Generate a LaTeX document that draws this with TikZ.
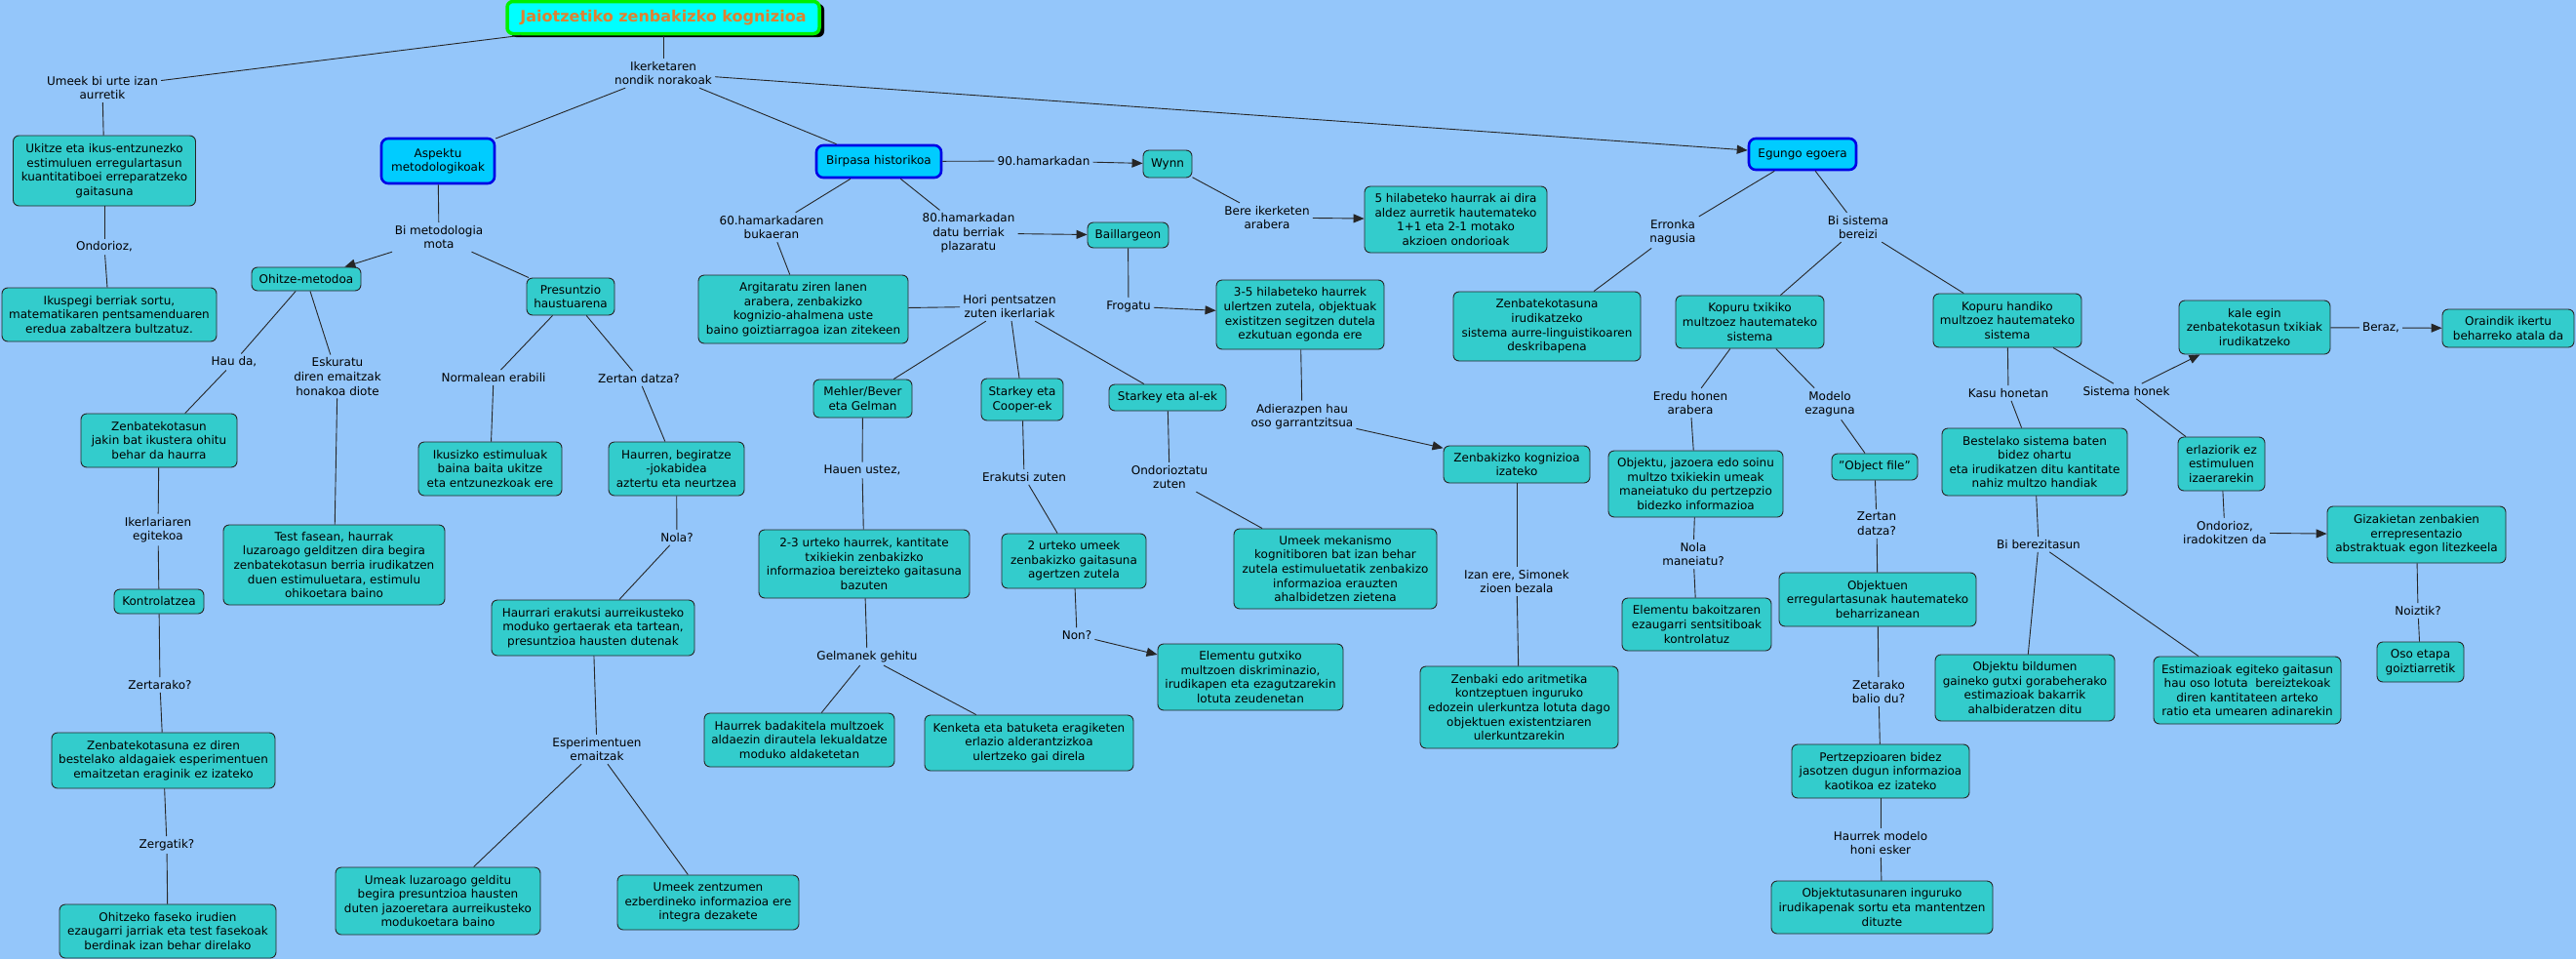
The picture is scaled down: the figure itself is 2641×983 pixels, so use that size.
\documentclass[tikz,border=0pt]{standalone}
\usepackage{fontspec}
\setmainfont{DejaVu Sans}
\usetikzlibrary{arrows.meta}
\definecolor{bg}{RGB}{148,198,250}
\definecolor{boxfill}{RGB}{51,204,204}
\definecolor{bluefill}{RGB}{0,204,255}
\definecolor{blueedge}{RGB}{0,0,230}
\definecolor{titlefill}{RGB}{0,255,255}
\definecolor{titleedge}{RGB}{0,240,0}
\definecolor{titletext}{RGB}{224,128,48}
\newcommand\nf{\fontsize{12}{14.6}\selectfont}
\begin{document}
\begin{tikzpicture}[x=1pt,y=-1pt,
 box/.style={draw=black!85, fill=boxfill, rounded corners=6pt, line width=0.9pt, align=center, inner sep=2pt, font=\nf},
 bbox/.style={draw=blueedge, fill=bluefill, rounded corners=7pt, line width=2.6pt, align=center, inner sep=2pt, font=\nf},
 lbl/.style={align=center, inner sep=3pt, font=\nf},
 conn/.style={draw=black!85, line width=0.9pt},
 arr/.style={conn, -{Triangle[length=11pt,width=9pt]}},
 sz/.style 2 args={minimum width=#1pt, minimum height=#2pt},
]
\fill[bg] (0,0) rectangle (2641,983);
\useasboundingbox (0,0) rectangle (2641,983);

% title
\node[fill=black, rounded corners=6pt, sz={322}{34}] (titleshadow) at (684,21) {};
\node[draw=titleedge, fill=titlefill, line width=3.5pt, rounded corners=6pt, sz={320}{33}, inner xsep=4pt,
  font=\fontsize{16}{19}\selectfont\bfseries, text=titletext] (title) at (680,18) {Jaiotzetiko zenbakizko kognizioa};

% blue boxes
\node[bbox, sz={116}{46}] (aspekto) at (449,165) {Aspektu\\metodologikoak};
\node[bbox, sz={128}{33}] (birpasa) at (901,165.5) {Birpasa historikoa};
\node[bbox, sz={110}{32}] (egungo) at (1848,158) {Egungo egoera};

% left branch
\node[box, sz={187}{72}] (ukitze) at (107,175) {Ukitze eta ikus-entzunezko\\estimuluen erregulartasun\\kuantitatiboei erreparatzeko\\gaitasuna};
\node[box, sz={220}{55}] (ikuspegi) at (112,322.5) {Ikuspegi berriak sortu,\\matematikaren pentsamenduaren\\eredua zabaltzera bultzatuz.};
\node[box, sz={112}{24}] (ohitze) at (314,286) {Ohitze-metodoa};
\node[box, sz={90}{38}] (presuntzio) at (585,304) {Presuntzio\\haustuarena};
\node[box, sz={160}{55}] (zenbjakin) at (163,451.5) {Zenbatekotasun\\jakin bat ikustera ohitu\\behar da haurra};
\node[box, sz={92}{25}] (kontrolatzea) at (163,616.5) {Kontrolatzea};
\node[box, sz={227}{82}] (test) at (342.5,579) {Test fasean, haurrak\\luzaroago gelditzen dira begira\\zenbatekotasun berria irudikatzen\\duen estimuluetara, estimulu\\ohikoetara baino};
\node[box, sz={147}{55}] (ikusizko) at (502.5,480.5) {Ikusizko estimuluak\\baina baita ukitze\\eta entzunezkoak ere};
\node[box, sz={139}{55}] (haurren) at (693.5,480.5) {Haurren, begiratze\\-jokabidea\\aztertu eta neurtzea};
\node[box, sz={208}{57}] (haurrari) at (608,643.5) {Haurrari erakutsi aurreikusteko\\moduko gertaerak eta tartean,\\presuntzioa hausten dutenak};
\node[box, sz={229}{57}] (zenbezdiren) at (167.5,779.5) {Zenbatekotasuna ez diren\\bestelako aldagaiek esperimentuen\\emaitzetan eraginik ez izateko};
\node[box, sz={222}{55}] (ohitzeko) at (172,954.5) {Ohitzeko faseko irudien\\ezaugarri jarriak eta test fasekoak\\berdinak izan behar direlako};
\node[box, sz={210}{69}] (umeakluz) at (449,923.5) {Umeak luzaroago gelditu\\begira presuntzioa hausten\\duten jazoeretara aurreikusteko\\modukoetara baino};
\node[box, sz={186}{56}] (umeekzentz) at (726,925) {Umeek zentzumen\\ezberdineko informazioa ere\\integra dezakete};

% middle branch
\node[box, sz={50}{28}] (wynn) at (1197,168) {Wynn};
\node[box, sz={187}{68}] (hil5) at (1492.5,225) {5 hilabeteko haurrak ai dira\\aldez aurretik hautemateko\\1+1 eta 2-1 motako\\akzioen ondorioak};
\node[box, sz={215}{70}] (argitaratu) at (823.5,317) {Argitaratu ziren lanen\\arabera, zenbakizko\\kognizio-ahalmena uste\\baino goiztiarragoa izan zitekeen};
\node[box, sz={83}{26}] (baillargeon) at (1156.5,241) {Baillargeon};
\node[box, sz={172}{71}] (hil35) at (1333,322.5) {3-5 hilabeteko haurrek\\ulertzen zutela, objektuak\\existitzen segitzen dutela\\ezkutuan egonda ere};
\node[box, sz={101}{39}] (mehler) at (884.5,408.5) {Mehler/Bever\\eta Gelman};
\node[box, sz={84}{43}] (cooper) at (1048,409.5) {Starkey eta\\Cooper-ek};
\node[box, sz={120}{27}] (alek) at (1197,407.5) {Starkey eta al-ek};
\node[box, sz={216}{70}] (urte23) at (886,578) {2-3 urteko haurrek, kantitate\\txikiekin zenbakizko\\informazioa bereizteko gaitasuna\\bazuten};
\node[box, sz={195}{55}] (badakitela) at (819.5,758.5) {Haurrek badakitela multzoek\\aldaezin dirautela lekualdatze\\moduko aldaketetan};
\node[box, sz={214}{57}] (kenketa) at (1055,761.5) {Kenketa eta batuketa eragiketen\\erlazio alderantzizkoa\\ulertzeko gai direla};
\node[box, sz={148}{56}] (urte2) at (1101,575) {2 urteko umeek\\zenbakizko gaitasuna\\agertzen zutela};
\node[box, sz={190}{68}] (elemgutxi) at (1282,694) {Elementu gutxiko\\multzoen diskriminazio,\\irudikapen eta ezagutzarekin\\lotuta zeudenetan};
\node[box, sz={208}{82}] (mekanismo) at (1369,583) {Umeek mekanismo\\kognitiboren bat izan behar\\zutela estimuluetatik zenbakizo\\informazioa erauzten\\ahalbidetzen zietena};
\node[box, sz={150}{38}] (zkizateko) at (1555,476) {Zenbakizko kognizioa\\izateko};
\node[box, sz={203}{84}] (zenbakiedo) at (1557.5,725) {Zenbaki edo aritmetika\\kontzeptuen inguruko\\edozein ulerkuntza lotuta dago\\objektuen existentziaren\\ulerkuntzarekin};

% right branch
\node[box, sz={192}{71}] (zenbirud) at (1586,334.5) {Zenbatekotasuna\\irudikatzeko\\sistema aurre-linguistikoaren\\deskribapena};
\node[box, sz={152}{54}] (txikiko) at (1794,330) {Kopuru txikiko\\multzoez hautemateko\\sistema};
\node[box, sz={152}{55}] (handiko) at (2058,328.5) {Kopuru handiko\\multzoez hautemateko\\sistema};
\node[box, sz={179}{68}] (objjazoera) at (1738.5,496) {Objektu, jazoera edo soinu\\multzo txikiekin umeak\\maneiatuko du pertzepzio\\bidezko informazioa};
\node[box, sz={153}{54}] (elembak) at (1739.5,640) {Elementu bakoitzaren\\ezaugarri sentsitiboak\\kontrolatuz};
\node[box, sz={88}{27}] (objfile) at (1922,478.5) {"Object file"};
\node[box, sz={202}{55}] (objektuen) at (1925,614.5) {Objektuen\\erregulartasunak hautemateko\\beharrizanean};
\node[box, sz={182}{55}] (pertzep) at (1928,790.5) {Pertzepzioaren bidez\\jasotzen dugun informazioa\\kaotikoa ez izateko};
\node[box, sz={227}{54}] (objtasun) at (1929.5,930) {Objektutasunaren inguruko\\irudikapenak sortu eta mantentzen\\dituzte};
\node[box, sz={190}{69}] (bestelako) at (2086,473.5) {Bestelako sistema baten\\bidez ohartu\\eta irudikatzen ditu kantitate\\nahiz multzo handiak};
\node[box, sz={184}{68}] (objbild) at (2076,705) {Objektu bildumen\\gaineko gutxi gorabeherako\\estimazioak bakarrik\\ahalbideratzen ditu};
\node[box, sz={192}{69}] (estimazioak) at (2304,707.5) {Estimazioak egiteko gaitasun\\hau oso lotuta~ bereiztekoak\\diren kantitateen arteko\\ratio eta umearen adinarekin};
\node[box, sz={155}{55}] (kale) at (2311.5,335.5) {kale egin\\zenbatekotasun txikiak\\irudikatzeko};
\node[box, sz={135}{39}] (oraindik) at (2571.5,336.5) {Oraindik ikertu\\beharreko atala da};
\node[box, sz={89}{55}] (erlaziorik) at (2277.5,475.5) {erlaziorik ez\\estimuluen\\izaerarekin};
\node[box, sz={183}{58}] (gizakietan) at (2477.5,548) {Gizakietan zenbakien\\errepresentazio\\abstraktuak egon litezkeela};
\node[box, sz={89}{41}] (osoetapa) at (2481.5,678.5) {Oso etapa\\goiztiarretik};

% labels
\node[lbl] (umeek) at (105,90) {Umeek bi urte izan\\aurretik};
\node[lbl] (ikerketaren) at (680,75) {Ikerketaren\\nondik norakoak};
\node[lbl] (ondorioz1) at (107,253) {Ondorioz,};
\node[lbl] (bimetod) at (450,243) {Bi metodologia\\mota};
\node[lbl] (hauda) at (240,371) {Hau da,};
\node[lbl] (eskuratu) at (346,386) {Eskuratu\\diren emaitzak\\honakoa diote};
\node[lbl] (ikerlariaren) at (162,543) {Ikerlariaren\\egitekoa};
\node[lbl] (zertarako) at (164,702) {Zertarako?};
\node[lbl] (zergatik) at (171,866) {Zergatik?};
\node[lbl] (normalean) at (506,387) {Normalean erabili};
\node[lbl] (zertan1) at (655,388) {Zertan datza?};
\node[lbl] (nola1) at (694,551) {Nola?};
\node[lbl] (esperimentuen) at (612,768) {Esperimentuen\\emaitzak};
\node[lbl] (l90) at (1070,165) {90.hamarkadan};
\node[lbl] (bere) at (1299,223) {Bere ikerketen\\arabera};
\node[lbl] (l60) at (791,233) {60.hamarkadaren\\bukaeran};
\node[lbl] (l80) at (993,239) {80.hamarkadan\\datu berriak\\plazaratu};
\node[lbl] (frogatu) at (1157,314) {Frogatu};
\node[lbl] (hori) at (1035,314) {Hori pentsatzen\\zuten ikerlariak};
\node[lbl] (hauen) at (884,482) {Hauen ustez,};
\node[lbl] (gelmanek) at (889,673) {Gelmanek gehitu};
\node[lbl] (erakutsi) at (1050,489) {Erakutsi zuten};
\node[lbl] (non) at (1104,651) {Non?};
\node[lbl] (ondorioztatu) at (1199,489) {Ondorioztatu\\zuten};
\node[lbl] (adierazpen) at (1335,427) {Adierazpen hau\\oso garrantzitsua};
\node[lbl] (izanere) at (1555,596) {Izan ere, Simonek\\zioen bezala};
\node[lbl] (erronka) at (1715,238) {Erronka\\nagusia};
\node[lbl] (bisistema) at (1905,233) {Bi sistema\\bereizi};
\node[lbl] (eredu) at (1733,413) {Eredu honen\\arabera};
\node[lbl] (nolaman) at (1736,568) {Nola\\maneiatu?};
\node[lbl] (modelo) at (1876,414) {Modelo\\ezaguna};
\node[lbl] (zertan2) at (1924,537) {Zertan\\datza?};
\node[lbl] (zetarako) at (1926,709) {Zetarako\\balio du?};
\node[lbl] (haurrekmod) at (1928,864) {Haurrek modelo\\honi esker};
\node[lbl] (kasu) at (2059,403) {Kasu honetan};
\node[lbl] (biberez) at (2090,558) {Bi berezitasun};
\node[lbl] (sistemahonek) at (2180,401) {Sistema honek};
\node[lbl] (beraz) at (2441,336) {Beraz,};
\node[lbl] (ondorioz2) at (2281,546) {Ondorioz,\\iradokitzen da};
\node[lbl] (noiztik) at (2479,626) {Noiztik?};

% connectors
\draw[conn] (title) -- (umeek);
\draw[conn] (umeek) -- (ukitze);
\draw[conn] (ukitze) -- (ondorioz1);
\draw[conn] (ondorioz1) -- (ikuspegi);
\draw[conn] (title) -- (ikerketaren);
\draw[conn] (ikerketaren) -- (aspekto);
\draw[conn] (ikerketaren) -- (birpasa);
\draw[arr] (ikerketaren) -- (egungo);
\draw[conn] (aspekto) -- (bimetod);
\draw[arr] (bimetod) -- (ohitze);
\draw[conn] (bimetod) -- (presuntzio);
\draw[conn] (ohitze) -- (hauda);
\draw[conn] (ohitze) -- (eskuratu);
\draw[conn] (hauda) -- (zenbjakin);
\draw[conn] (eskuratu) -- (test);
\draw[conn] (zenbjakin) -- (ikerlariaren);
\draw[conn] (ikerlariaren) -- (kontrolatzea);
\draw[conn] (kontrolatzea) -- (zertarako);
\draw[conn] (zertarako) -- (zenbezdiren);
\draw[conn] (zenbezdiren) -- (zergatik);
\draw[conn] (zergatik) -- (ohitzeko);
\draw[conn] (presuntzio) -- (normalean);
\draw[conn] (normalean) -- (ikusizko);
\draw[conn] (presuntzio) -- (zertan1);
\draw[conn] (zertan1) -- (haurren);
\draw[conn] (haurren) -- (nola1);
\draw[conn] (nola1) -- (haurrari);
\draw[conn] (haurrari) -- (esperimentuen);
\draw[conn] (esperimentuen) -- (umeakluz);
\draw[conn] (esperimentuen) -- (umeekzentz);
\draw[conn] (birpasa) -- (l90);
\draw[arr] (l90) -- (wynn);
\draw[conn] (wynn) -- (bere);
\draw[arr] (bere) -- (hil5);
\draw[conn] (birpasa) -- (l60);
\draw[conn] (l60) -- (argitaratu);
\draw[conn] (birpasa) -- (l80);
\draw[arr] (l80) -- (baillargeon);
\draw[conn] (baillargeon) -- (frogatu);
\draw[arr] (frogatu) -- (hil35);
\draw[conn] (argitaratu) -- (hori);
\draw[conn] (hori) -- (mehler);
\draw[conn] (hori) -- (cooper);
\draw[conn] (hori) -- (alek);
\draw[conn] (mehler) -- (hauen);
\draw[conn] (hauen) -- (urte23);
\draw[conn] (urte23) -- (gelmanek);
\draw[conn] (gelmanek) -- (badakitela);
\draw[conn] (gelmanek) -- (kenketa);
\draw[conn] (cooper) -- (erakutsi);
\draw[conn] (erakutsi) -- (urte2);
\draw[conn] (urte2) -- (non);
\draw[arr] (non) -- (elemgutxi);
\draw[conn] (alek) -- (ondorioztatu);
\draw[conn] (ondorioztatu) -- (mekanismo);
\draw[conn] (hil35) -- (adierazpen);
\draw[arr] (adierazpen) -- (zkizateko);
\draw[conn] (zkizateko) -- (izanere);
\draw[conn] (izanere) -- (zenbakiedo);
\draw[conn] (egungo) -- (erronka);
\draw[conn] (erronka) -- (zenbirud);
\draw[conn] (egungo) -- (bisistema);
\draw[conn] (bisistema) -- (txikiko);
\draw[conn] (bisistema) -- (handiko);
\draw[conn] (txikiko) -- (eredu);
\draw[conn] (eredu) -- (objjazoera);
\draw[conn] (objjazoera) -- (nolaman);
\draw[conn] (nolaman) -- (elembak);
\draw[conn] (txikiko) -- (modelo);
\draw[conn] (modelo) -- (objfile);
\draw[conn] (objfile) -- (zertan2);
\draw[conn] (zertan2) -- (objektuen);
\draw[conn] (objektuen) -- (zetarako);
\draw[conn] (zetarako) -- (pertzep);
\draw[conn] (pertzep) -- (haurrekmod);
\draw[conn] (haurrekmod) -- (objtasun);
\draw[conn] (handiko) -- (kasu);
\draw[conn] (kasu) -- (bestelako);
\draw[conn] (bestelako) -- (biberez);
\draw[conn] (biberez) -- (objbild);
\draw[conn] (biberez) -- (estimazioak);
\draw[conn] (handiko) -- (sistemahonek);
\draw[arr] (sistemahonek) -- (kale);
\draw[conn] (kale) -- (beraz);
\draw[arr] (beraz) -- (oraindik);
\draw[conn] (sistemahonek) -- (erlaziorik);
\draw[conn] (erlaziorik) -- (ondorioz2);
\draw[arr] (ondorioz2) -- (gizakietan);
\draw[conn] (gizakietan) -- (noiztik);
\draw[conn] (noiztik) -- (osoetapa);
\end{tikzpicture}
\end{document}
